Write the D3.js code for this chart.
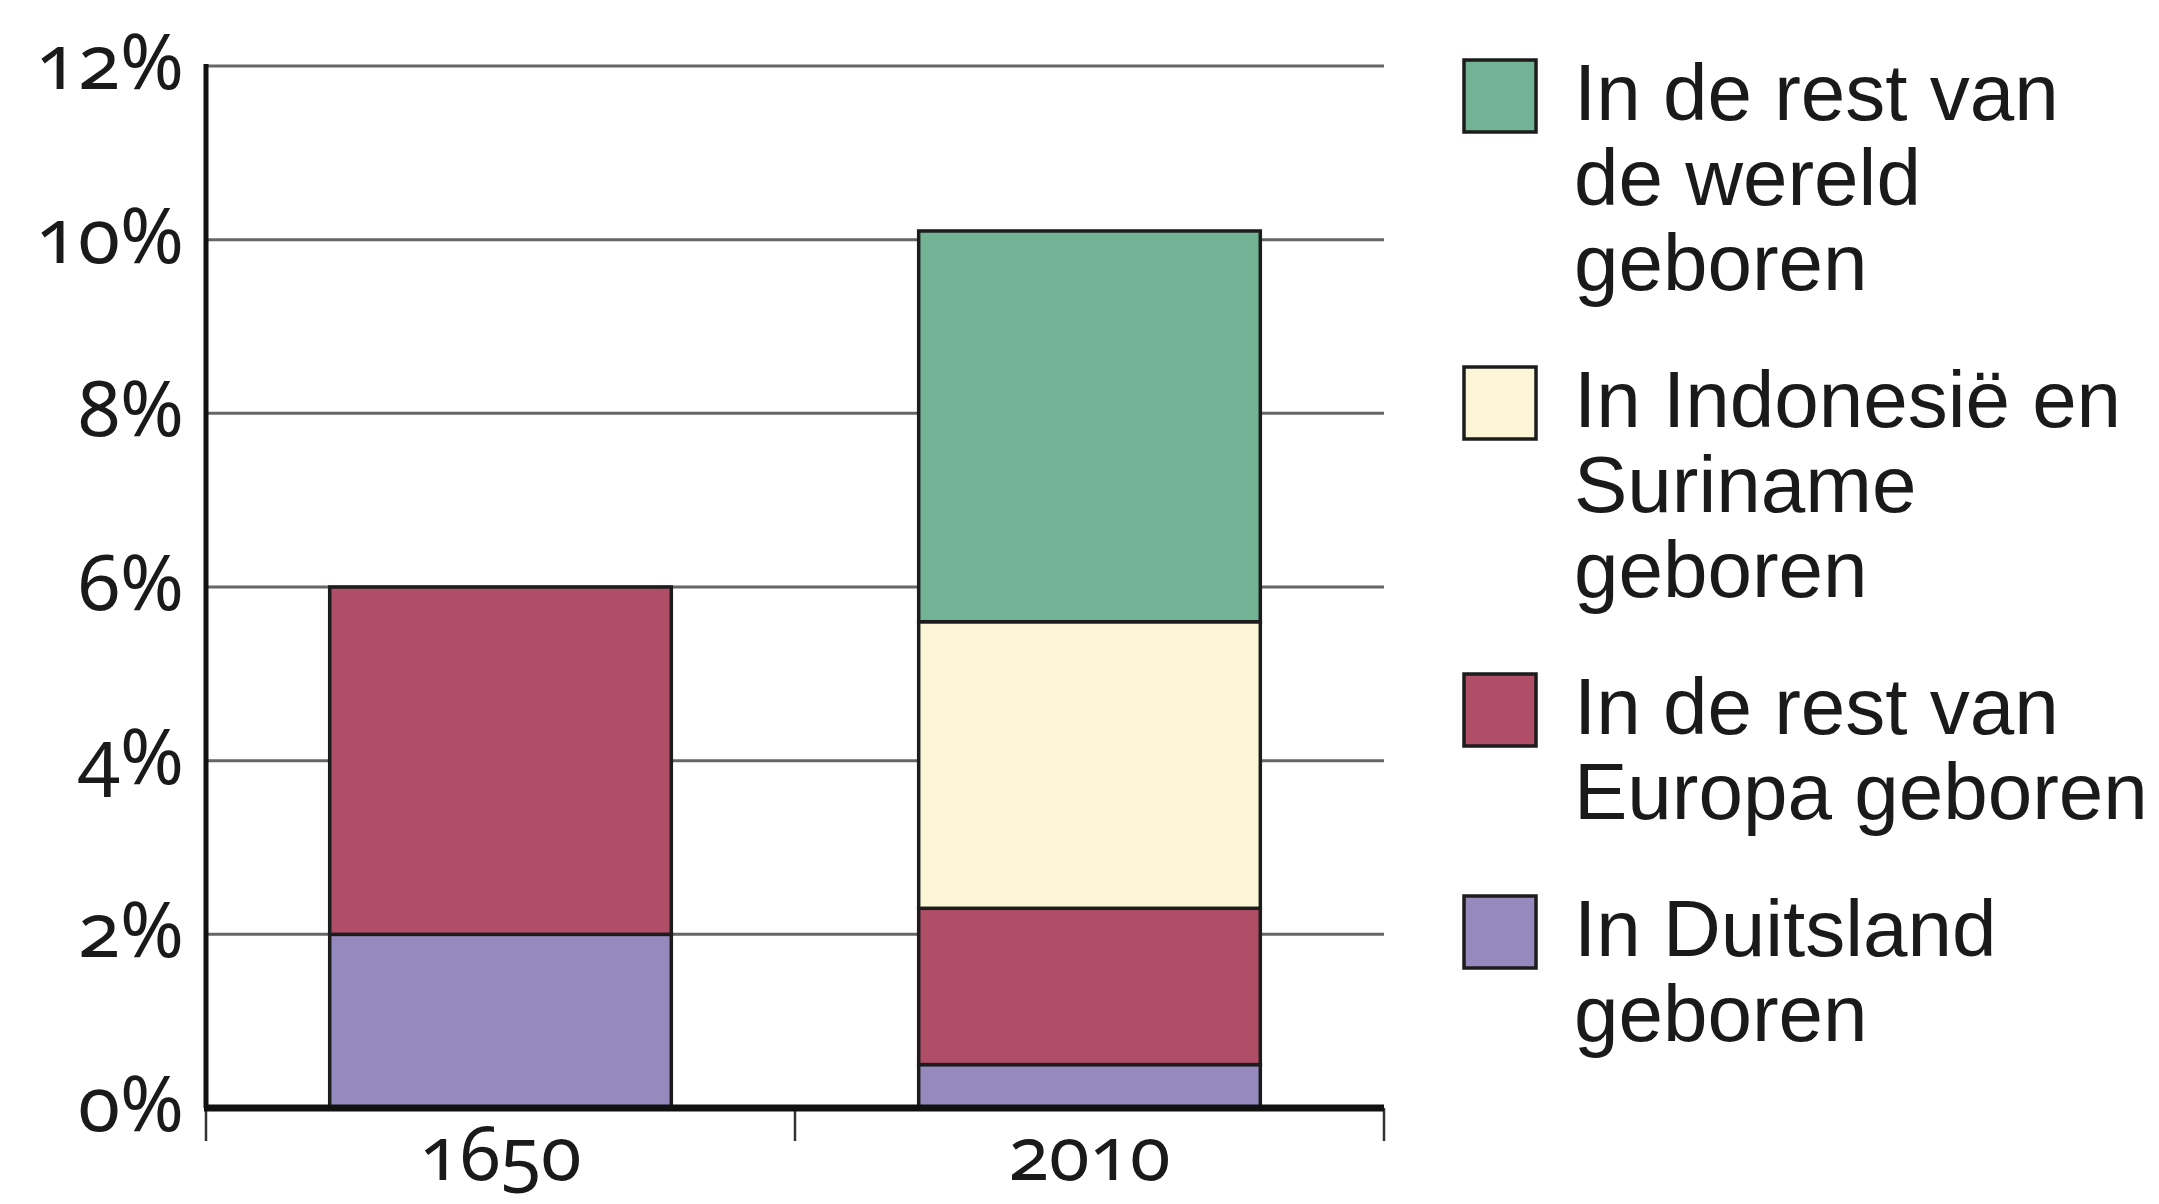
<!DOCTYPE html>
<html>
<head>
<meta charset="utf-8">
<script src="https://cdn.jsdelivr.net/npm/d3@7"></script>
<style>
  body { margin: 0; background: #fff; }
  text { font-family: "Liberation Sans", Arial, sans-serif; fill: #1a1a1a; }
  .tick-label { font-family: "Noto Sans", sans-serif; font-variant-numeric: oldstyle-nums; }
</style>
</head>
<body>
<div class="chart"></div>
<script>
// data
var years = ["1650", "2010"];
var duitsland = [2, 0.5];
var europa = [4, 1.8];
var indonesieSuriname = [0, 3.3];
var wereld = [0, 4.5];
var yTicks = [0, 2, 4, 6, 8, 10, 12];

// series from bottom to top
var seriesKeys = ["duitsland", "europa", "indonesie", "wereld"];
var seriesColors = ["#9689bd", "#b04e68", "#fcf6d7", "#72b396"];

// legend from top to bottom
var legendKeys = ["wereld", "indonesie", "europa", "duitsland"];
var legendLines = [
    ["In de rest van", "de wereld", "geboren"],
    ["In Indonesië en", "Suriname", "geboren"],
    ["In de rest van", "Europa geboren"],
    ["In Duitsland", "geboren"]
];

var width = 2159, height = 1204;

var svg = d3.select("div.chart")
    .append("svg")
    .attr("width", width)
    .attr("height", height);

var x = d3.scaleBand()
    .domain(years)
    .range([206, 1384])
    .paddingInner(0.42)
    .paddingOuter(0.21);

var y = d3.scaleLinear()
    .domain([0, 12])
    .range([1108, 66]);

var color = d3.scaleOrdinal()
    .domain(seriesKeys)
    .range(seriesColors);

// build table for the stack
var table = years.map(function (yr, i) {
    return {
        year: yr,
        duitsland: duitsland[i],
        europa: europa[i],
        indonesie: indonesieSuriname[i],
        wereld: wereld[i]
    };
});

var stacked = d3.stack().keys(seriesKeys)(table);

// gridlines
svg.append("g")
    .selectAll("line")
    .data(yTicks.filter(function (d) { return d > 0; }))
    .enter()
    .append("line")
    .attr("x1", x.range()[0])
    .attr("x2", x.range()[1])
    .attr("y1", function (d) { return y(d); })
    .attr("y2", function (d) { return y(d); })
    .attr("stroke", "#666")
    .attr("stroke-width", 3);

// y tick labels
svg.append("g")
    .selectAll("text")
    .data(yTicks)
    .enter()
    .append("text")
    .attr("class", "tick-label")
    .attr("x", 184)
    .attr("y", function (d) { return y(d) + 23; })
    .attr("text-anchor", "end")
    .style("font-size", "77px")
    .text(function (d) { return d + "%"; });

// bars
svg.append("g")
    .selectAll("g")
    .data(stacked)
    .enter()
    .append("g")
    .attr("fill", function (d) { return color(d.key); })
    .selectAll("rect")
    .data(function (d) { return d.filter(function (s) { return s[1] - s[0] > 0; }); })
    .enter()
    .append("rect")
    .attr("x", function (d) { return x(d.data.year); })
    .attr("width", x.bandwidth())
    .attr("y", function (d) { return y(d[1]); })
    .attr("height", function (d) { return y(d[0]) - y(d[1]); })
    .attr("stroke", "#1c1c1c")
    .attr("stroke-width", 3.5);

// y axis line
svg.append("line")
    .attr("x1", x.range()[0])
    .attr("x2", x.range()[0])
    .attr("y1", y(12) - 2)
    .attr("y2", y(0))
    .attr("stroke", "#111")
    .attr("stroke-width", 5);

// x ticks at band borders
var step = x.step();
var xTickPos = [x.range()[0], x.range()[0] + step, x.range()[1]];
svg.append("g")
    .selectAll("line")
    .data(xTickPos)
    .enter()
    .append("line")
    .attr("x1", function (d) { return d; })
    .attr("x2", function (d) { return d; })
    .attr("y1", y(0))
    .attr("y2", y(0) + 33)
    .attr("stroke", "#333")
    .attr("stroke-width", 2.5);

// baseline
svg.append("line")
    .attr("x1", x.range()[0] - 2)
    .attr("x2", x.range()[1])
    .attr("y1", y(0))
    .attr("y2", y(0))
    .attr("stroke", "#111")
    .attr("stroke-width", 7);

// x labels
svg.append("g")
    .selectAll("text")
    .data(years)
    .enter()
    .append("text")
    .attr("class", "tick-label")
    .attr("x", function (d) { return x(d) + x.bandwidth() / 2; })
    .attr("y", 1180)
    .attr("text-anchor", "middle")
    .style("font-size", "74px")
    .text(function (d) { return d; });

// legend
var lineH = 85, groupGap = 137;
var baseline = 120;
var legend = svg.append("g");
legendKeys.forEach(function (key, i) {
    legend.append("rect")
        .attr("x", 1464)
        .attr("y", baseline - 60)
        .attr("width", 72)
        .attr("height", 72)
        .attr("fill", color(key))
        .attr("stroke", "#1c1c1c")
        .attr("stroke-width", 3.5);
    var t = legend.append("text")
        .attr("x", 1574)
        .attr("y", baseline)
        .style("font-size", "80px");
    legendLines[i].forEach(function (line, j) {
        t.append("tspan")
            .attr("x", 1574)
            .attr("dy", j == 0 ? 0 : lineH)
            .text(line);
    });
    baseline += (legendLines[i].length - 1) * lineH + groupGap;
});
</script>
</body>
</html>
